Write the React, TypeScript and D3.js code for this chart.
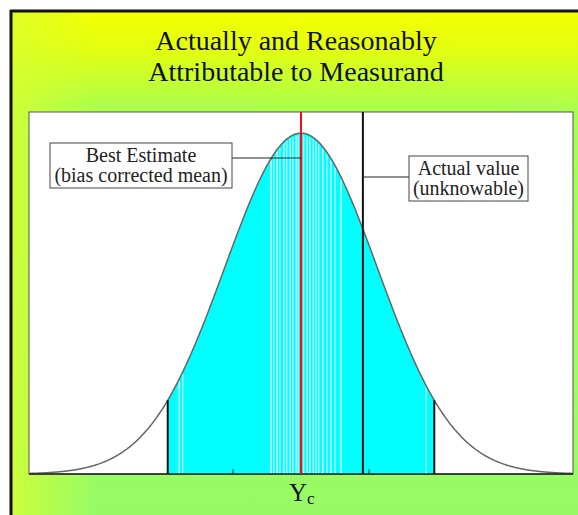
import React from "react";
import * as d3 from "d3";

// ---- data ----
const titleLines = ["Actually and Reasonably", "Attributable to Measurand"];
const xDomain = [-4, 4];
const xTicks = [-1, 0, 1];
const curveMean = 0;
const curveSd = 1.12;
const shadedRange = [-1.96, 1.96];
const bestEstimateX = 0;
const actualValueX = 0.91;
const stripeXs = [
  -1.79, -1.74, -0.44, -0.4, -0.35, -0.31, -0.25, -0.21, -0.16, -0.12, -0.07, -0.04,
  0.04, 0.09, 0.13, 0.18, 0.22, 0.26, 0.32, 0.38, 0.44, 0.5, 0.59, 1.84,
];
const bestEstimateLabel = ["Best Estimate", "(bias corrected mean)"];
const actualValueLabel = ["Actual value", "(unknowable)"];
const axisLabel = "Y";
const axisLabelSub = "c";

// ---- layout ----
const W = 578;
const H = 515;
const plot = { left: 29, top: 112, right: 573, bottom: 474 };
const serif = "'Liberation Serif', 'Times New Roman', serif";

const pdf = (x: number) =>
  Math.exp(-((x - curveMean) ** 2) / (2 * curveSd * curveSd)) / (curveSd * Math.sqrt(2 * Math.PI));

export default function App() {
  const x = d3.scaleLinear().domain(xDomain).range([plot.left, plot.right]);
  const peak = pdf(curveMean);
  const y = d3.scaleLinear().domain([0, peak * 1.062]).range([plot.bottom, plot.top]);

  const samples = d3.range(xDomain[0], xDomain[1] + 1e-9, 0.01);
  const line = d3
    .line<number>()
    .x((d) => x(d))
    .y((d) => y(pdf(d)));
  const shadedSamples = [
    shadedRange[0],
    ...samples.filter((d) => d > shadedRange[0] && d < shadedRange[1]),
    shadedRange[1],
  ];
  const area = d3
    .area<number>()
    .x((d) => x(d))
    .y0(y(0))
    .y1((d) => y(pdf(d)));

  return (
    <svg
      width={W}
      height={H}
      style={{ position: "absolute", left: 0, top: 0, display: "block" }}
    >
      <defs>
        <linearGradient id="bgV" x1="0" y1="0" x2="0" y2="1">
          <stop offset="0" stopColor="#f6ff00" />
          <stop offset="0.08" stopColor="#e2ff10" />
          <stop offset="0.2" stopColor="#a8ff50" />
          <stop offset="1" stopColor="#98fb66" />
        </linearGradient>
        <linearGradient id="bgH" x1="0" y1="0" x2="1" y2="0">
          <stop offset="0" stopColor="#d8ff30" stopOpacity="0.8" />
          <stop offset="0.15" stopColor="#d8ff30" stopOpacity="0" />
        </linearGradient>
      </defs>
      <rect x={0} y={0} width={W} height={H} fill="#ffffff" />
      <rect x={10} y={10} width={W - 10} height={H - 10} fill="url(#bgV)" />
      <rect x={10} y={10} width={W - 10} height={H - 10} fill="url(#bgH)" />
      <line x1={10} y1={11} x2={W} y2={11} stroke="#111" strokeWidth={3} />
      <line x1={11} y1={10} x2={11} y2={H} stroke="#111" strokeWidth={3} />

      {titleLines.map((t, i) => (
        <text
          key={t}
          x={296}
          y={50 + i * 31}
          textAnchor="middle"
          fontFamily={serif}
          fontSize={28}
          fill="#111"
        >
          {t}
        </text>
      ))}

      <rect
        x={plot.left}
        y={plot.top}
        width={plot.right - plot.left}
        height={plot.bottom - plot.top}
        fill="#ffffff"
        stroke="#555"
        strokeWidth={1}
      />

      <path d={area(shadedSamples) ?? ""} fill="#00ffff" />
      {stripeXs.map((s, i) => (
        <line
          key={i}
          x1={x(s)}
          x2={x(s)}
          y1={y(0)}
          y2={y(pdf(s)) + 2}
          stroke="#ffffff"
          strokeOpacity={i % 2 ? 0.75 : 1}
          strokeWidth={1.2}
        />
      ))}

      <path d={line(samples) ?? ""} fill="none" stroke="#666" strokeWidth={1.5} />

      {shadedRange.map((s) => (
        <line
          key={s}
          x1={x(s)}
          x2={x(s)}
          y1={y(0)}
          y2={y(pdf(s))}
          stroke="#111"
          strokeWidth={2}
        />
      ))}

      <line x1={plot.left} x2={plot.right} y1={y(0)} y2={y(0)} stroke="#222" strokeWidth={1.5} />
      {xTicks.map((t) => (
        <line key={t} x1={x(t)} x2={x(t)} y1={y(0)} y2={y(0) - 5} stroke="#333" strokeWidth={1} />
      ))}

      <line
        x1={x(actualValueX)}
        x2={x(actualValueX)}
        y1={plot.top}
        y2={y(0)}
        stroke="#111"
        strokeWidth={2}
      />
      <line
        x1={x(bestEstimateX)}
        x2={x(bestEstimateX)}
        y1={plot.top}
        y2={y(0)}
        stroke="#ee1111"
        strokeWidth={2}
      />

      {/* Best estimate label */}
      <line x1={232} x2={x(bestEstimateX)} y1={158} y2={158} stroke="#222" strokeWidth={1} />
      <rect x={50} y={143} width={182} height={45} fill="#ffffff" stroke="#444" strokeWidth={1} />
      {bestEstimateLabel.map((t, i) => (
        <text
          key={t}
          x={141}
          y={162 + i * 20}
          textAnchor="middle"
          fontFamily={serif}
          fontSize={20}
          fill="#222"
        >
          {t}
        </text>
      ))}

      {/* Actual value label */}
      <line x1={x(actualValueX)} x2={409} y1={177} y2={177} stroke="#222" strokeWidth={1} />
      <rect x={409} y={156} width={119} height={45} fill="#ffffff" stroke="#444" strokeWidth={1} />
      {actualValueLabel.map((t, i) => (
        <text
          key={t}
          x={468.5}
          y={175 + i * 20}
          textAnchor="middle"
          fontFamily={serif}
          fontSize={20}
          fill="#222"
        >
          {t}
        </text>
      ))}

      <text x={x(0) - 12} y={501} fontFamily={serif} fontSize={25} fill="#111">
        {axisLabel}
        <tspan fontSize={17} dy={3}>
          {axisLabelSub}
        </tspan>
      </text>
    </svg>
  );
}
